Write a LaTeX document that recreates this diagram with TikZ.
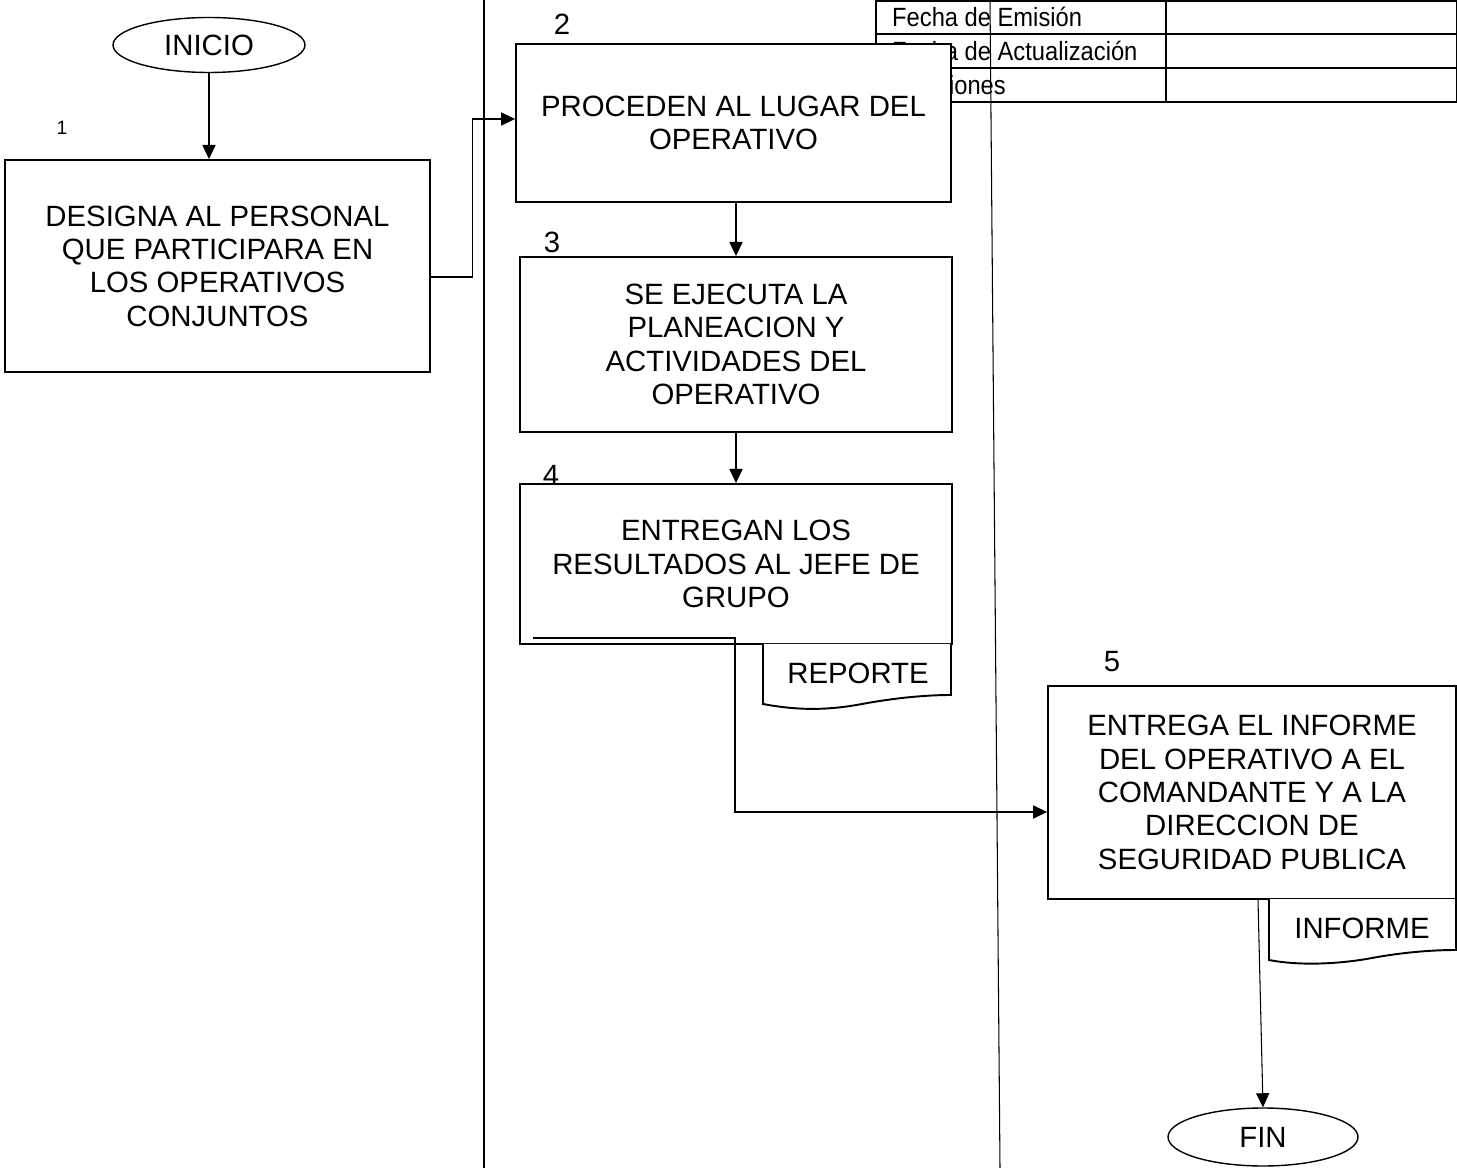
\documentclass[tikz,border=0pt]{standalone}
\usepackage{fontspec}
\setmainfont{Liberation Sans}
\newfontfamily\narrowfont[FakeStretch=0.9]{Liberation Sans}
\usetikzlibrary{shapes.geometric,arrows.meta,positioning}

\begin{document}
\begin{tikzpicture}[x=0.02cm, y=-0.02cm, font=\fontsize{16.7}{19}\selectfont,
    box/.style={draw, line width=1.1pt, fill=white, align=center, inner sep=0pt},
    term/.style={ellipse, draw, line width=0.8pt, fill=white, inner sep=0pt},
    doc/.style={draw, line width=1.1pt, fill=white},
    arr/.style={-{Triangle[length=8pt,width=7.5pt]}, line width=0.6pt},
    lane/.style={line width=0.6pt}]
  \useasboundingbox (0,0) rectangle (1457,1168);

  % tabla de fechas
  \draw[line width=0.9pt] (876,1) rectangle (1457,102);
  \draw[line width=0.9pt] (876,34) -- (1457,34) (876,68) -- (1457,68) (1166,1) -- (1166,102);
  \node[anchor=west, font=\narrowfont\fontsize{15}{17}\selectfont] (emision) at (886,17) {Fecha de Emisión};
  \node[anchor=west, font=\narrowfont\fontsize{15}{17}\selectfont] (actual) at (886,51) {Fecha de Actualización};
  \node[anchor=east, font=\narrowfont\fontsize{15}{17}\selectfont] (revis) at (1012,85) {Revisiones};

  % carriles
  \draw[lane] (484,0) -- (484,1168);
  \draw[lane] (990,0) -- (1000,1168);

  \node[term, minimum width=3.84cm, minimum height=1.1cm] (inicio) at (209,45) {INICIO};
  \node[box, minimum width=8.5cm, minimum height=4.24cm] (1) at (217.5,266)
    {DESIGNA AL PERSONAL\\QUE PARTICIPARA EN\\LOS OPERATIVOS\\CONJUNTOS};
  \node[box, minimum width=8.7cm, minimum height=3.16cm] (2) at (733.5,123)
    {PROCEDEN AL LUGAR DEL\\OPERATIVO};
  \node[box, minimum width=8.64cm, minimum height=3.5cm] (3) at (736,344.5)
    {SE EJECUTA LA\\PLANEACION Y\\ACTIVIDADES DEL\\OPERATIVO};
  \node[box, minimum width=8.64cm, minimum height=3.2cm] (4) at (736,564)
    {ENTREGAN LOS\\RESULTADOS AL JEFE DE\\GRUPO};
  \node[box, minimum width=8.16cm, minimum height=4.26cm] (5) at (1252,792.5)
    {ENTREGA EL INFORME\\DEL OPERATIVO A EL\\COMANDANTE Y A LA\\DIRECCION DE\\SEGURIDAD PUBLICA};
  \node[term, minimum width=3.8cm, minimum height=1.16cm] (fin) at (1263,1137) {FIN};

  % numeros de paso
  \node[font=\fontsize{11}{13}\selectfont] (n1) at (62,128) {1};
  \node (n2) at (562,24) {2};
  \node (n3) at (552,242) {3};
  \node (n4) at (551,475) {4};
  \node (n5) at (1112,662) {5};

  % documentos
  \draw[doc] (763,644) -- (763,704) .. controls (800,711) and (830,710) .. (862,704)
    .. controls (900,697) and (930,695) .. (951,695) -- (951,644);
  \node (reporte) at (858,673) {REPORTE};
  \draw[doc] (1269,899) -- (1269,960) .. controls (1300,966) and (1340,964) .. (1372,958)
    .. controls (1410,951) and (1440,950) .. (1456,950) -- (1456,899);
  \node (informe) at (1362,928) {INFORME};

  \coordinate (r0) at (533,638);
  \coordinate (r1) at (735,812);

  \path[arr] (inicio.south) edge (inicio.south |- 1.north);
  \draw[arr] ([yshift=-0.22cm]1.east) -- ++(42,0) |- ([yshift=0.08cm]2.west);
  \path[arr] (2.south -| 3.north) edge (3.north);
  \path[arr] (3.south) edge (4.north);
  \draw[arr] (r0) -| (r1) -- (r1 -| 5.west);
  \path[arr] ([xshift=0.12cm]5.south) edge (fin.north);
\end{tikzpicture}
\end{document}
